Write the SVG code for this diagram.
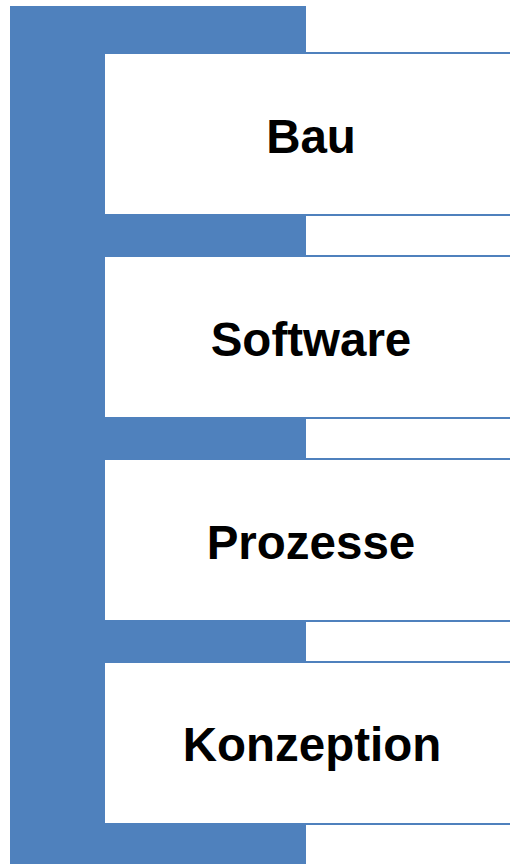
<svg xmlns="http://www.w3.org/2000/svg" width="510" height="864" viewBox="0 0 510 864">
<style>
.box{fill:#ffffff}
.edge{stroke:#4F81BD;stroke-width:2;fill:none}
.lbl{font-family:"Liberation Sans",Arial,sans-serif;font-weight:bold;font-size:47.5px;fill:#000;text-anchor:middle}
</style>
<rect width="510" height="864" fill="#ffffff"/>
<g id="spine"><rect x="10" y="6" width="296" height="858" fill="#4F81BD"/></g>
<g id="node-bau">
<rect class="box" x="105" y="53" width="405" height="162"/>
<line class="edge" x1="105" y1="53" x2="510" y2="53"/>
<line class="edge" x1="105" y1="215" x2="510" y2="215"/>
<text class="lbl" x="311" y="153">Bau</text>
</g>
<g id="node-software">
<rect class="box" x="105" y="256" width="405" height="162"/>
<line class="edge" x1="105" y1="256" x2="510" y2="256"/>
<line class="edge" x1="105" y1="418" x2="510" y2="418"/>
<text class="lbl" x="311" y="356">Software</text>
</g>
<g id="node-prozesse">
<rect class="box" x="105" y="459" width="405" height="162"/>
<line class="edge" x1="105" y1="459" x2="510" y2="459"/>
<line class="edge" x1="105" y1="621" x2="510" y2="621"/>
<text class="lbl" x="311" y="559">Prozesse</text>
</g>
<g id="node-konzeption">
<rect class="box" x="105" y="662" width="405" height="162"/>
<line class="edge" x1="105" y1="662" x2="510" y2="662"/>
<line class="edge" x1="105" y1="824" x2="510" y2="824"/>
<text class="lbl" x="312" y="761">Konzeption</text>
</g>
<g id="connectors"></g>
</svg>
